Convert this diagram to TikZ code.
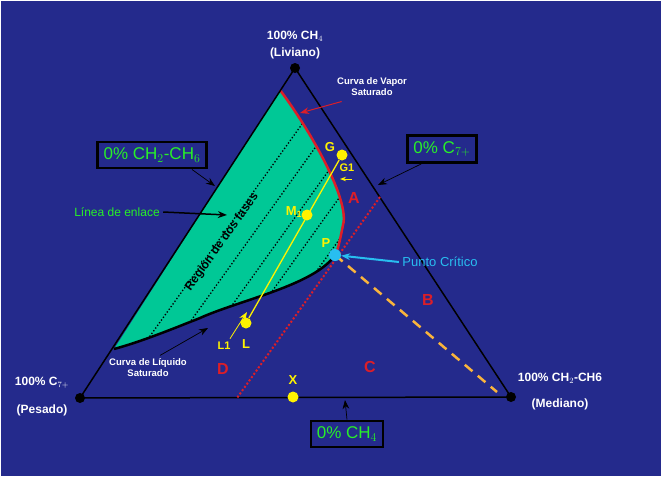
\documentclass[tikz,border=0pt]{standalone}
\usepackage{fontspec}
\setmainfont{Liberation Sans}
\usetikzlibrary{arrows.meta,positioning}
\definecolor{fondo}{RGB}{36,42,140}
\definecolor{verdefase}{RGB}{0,200,150}
\definecolor{verdetxt}{RGB}{40,240,40}
\definecolor{rojo}{RGB}{220,30,40}
\definecolor{cian}{RGB}{40,190,240}
\definecolor{naranja}{RGB}{250,180,60}
\tikzset{
  lbl/.style={text=white,font=\bfseries\fontsize{12}{13}\selectfont,align=center},
  chico/.style={text=white,font=\bfseries\fontsize{9.5}{11}\selectfont,align=center},
  caja/.style={draw=black,line width=2.5pt,text=verdetxt,font=\fontsize{17}{18}\selectfont,inner sep=6pt},
  zona/.style={text=rojo,font=\bfseries\fontsize{16}{16}\selectfont},
  punto/.style={circle,fill=yellow,inner sep=0pt,minimum size=11pt},
  amar/.style={text=yellow,font=\bfseries\fontsize{13}{13}\selectfont},
  flecha/.style={-{Stealth[length=9pt]},line width=1pt}
}
\begin{document}
\begin{tikzpicture}[x=1pt,y=-1pt]
\fill[fondo,draw=white] (0.5,0.5) rectangle (661.5,476.5);
\useasboundingbox (0,0) rectangle (662,477);
\coordinate (T) at (295,68);
\coordinate (Lv) at (80,398);
\coordinate (Rv) at (511,397);
\coordinate (P) at (335,255);
\coordinate (Gs) at (280,90);
\coordinate (Ls) at (114,349);
% region de dos fases
\fill[verdefase] (Ls) -- (Gs) .. controls (310,130) and (350,200) .. (343,225)
  .. controls (340,240) and (338,250) .. (P)
  .. controls (315,285) and (240,300) .. (200,318) .. controls (170,330) and (140,342) .. (Ls);
\begin{scope}
\clip (Ls) -- (Gs) .. controls (310,130) and (350,200) .. (343,225)
  .. controls (340,240) and (338,250) .. (P)
  .. controls (315,285) and (240,300) .. (200,318) .. controls (170,330) and (140,342) .. (Ls);
\foreach \d in {0,30,60,90,120,150}{
  \draw[black,line width=1.3pt,dash pattern=on 1.3pt off 2pt] (140+\d,350) -- ++(175,-244);
}
\end{scope}
\draw[rojo,line width=2.5pt] (Gs) .. controls (310,130) and (350,200) .. (343,225)
  .. controls (340,240) and (338,250) .. (P);
\draw[black,line width=2.5pt] (P) .. controls (315,285) and (240,300) .. (200,318)
  .. controls (170,330) and (140,342) .. (Ls);
% triangulo
\draw[black,line width=1.5pt] (T) -- (Lv) -- (Rv) -- cycle;
\foreach \v in {T,Lv,Rv}{\fill[black] (\v) circle (5pt);}
% lineas
\draw[rojo,dotted,line width=2pt] (380,197) -- (237,398);
\draw[naranja,line width=2.5pt,dash pattern=on 10pt off 7pt] (P) -- (497,392);
\node[punto] (G) at (342,155) {};
\node[punto] (L) at (246,323) {};
\node[punto] (M) at (307,215) {};
\draw[yellow,line width=1.3pt] (L) -- (G);
\node[circle,fill=cian,inner sep=0pt,minimum size=12pt] (Pc) at (P) {};
\node[punto] (X) at (293,397) {};
% etiquetas
\node[lbl] (ch4) at (295,36) {100\% CH$_4$};
\node[lbl] (liv) at (295,53) {(Liviano)};
\node[lbl] (c7) at (42,383) {100\% C$_{7+}$};
\node[lbl] (pes) at (42,410) {(Pesado)};
\node[lbl] (ch2) at (560,378) {100\% CH$_2$-CH6};
\node[lbl] (med) at (560,404) {(Mediano)};
\node[chico] (cv) at (372,87) {Curva de Vapor\\Saturado};
\node[chico] (cl) at (148,368) {Curva de L\'iquido\\Saturado};
\node[caja] (b1) at (152,155) {0\% CH$_2$-CH$_6$};
\node[caja] (b2) at (442,149) {0\% C$_{7+}$};
\node[caja] (b3) at (347,434) {0\% CH$_4$};
\node[text=verdetxt,font=\fontsize{12}{13}\selectfont] (le) at (117,212) {L\'inea de enlace};
\node[text=cian,font=\fontsize{13}{13}\selectfont] (pcr) at (440,262) {Punto Cr\'itico};
\node[rotate=54.5,text=black,font=\bfseries\fontsize{12}{13}\selectfont] (reg) at (222,242) {Regi\'on de dos fases};
\node[zona] (A) at (354,198) {A};
\node[zona] (B) at (428,300) {B};
\node[zona] (C) at (370,367) {C};
\node[zona] (D) at (223,369) {D};
\node[amar] (Xt) at (293,380) {X};
\node[amar] (Gt) at (330,147) {G};
\node[amar,font=\bfseries\fontsize{11}{11}\selectfont] (G1) at (347,168) {G1};
\node[amar] (Mt) at (294,212) {M$_{\mathbf 1}$};
\node[amar] (Pt) at (326,243) {P};
\node[amar] (Lt) at (246,344) {L};
\node[amar,font=\bfseries\fontsize{11}{11}\selectfont] (L1) at (224,346) {L1};
% flechas
\draw[flecha,rojo] (cv.south west) ++(8,2) coordinate (cva) -- (300,113);
\draw[flecha,black,line width=0.7pt] (cl.north) ++(12,0) coordinate (cla) -- (208,328);
\draw[flecha,black,line width=1.5pt] (le.east) -- (227,215);
\draw[flecha,black,line width=0.7pt] (b1.south) ++(40,0) coordinate (b1a) -- (215,186);
\draw[flecha,black,line width=0.7pt] (b2.south west) ++(15,0) coordinate (b2a) -- (378,185);
\draw[flecha,black,line width=0.7pt] (b3.north) -- (345,400);
\draw[flecha,cian,line width=2pt] (pcr.west) -- (Pc);
\draw[flecha,yellow,line width=0.8pt] (L1.north) ++(6,0) coordinate (l1a) -- (247,312);
\draw[-{Stealth[length=6pt]},yellow,line width=1pt] (352,179) -- (340,179);
\end{tikzpicture}
\end{document}
